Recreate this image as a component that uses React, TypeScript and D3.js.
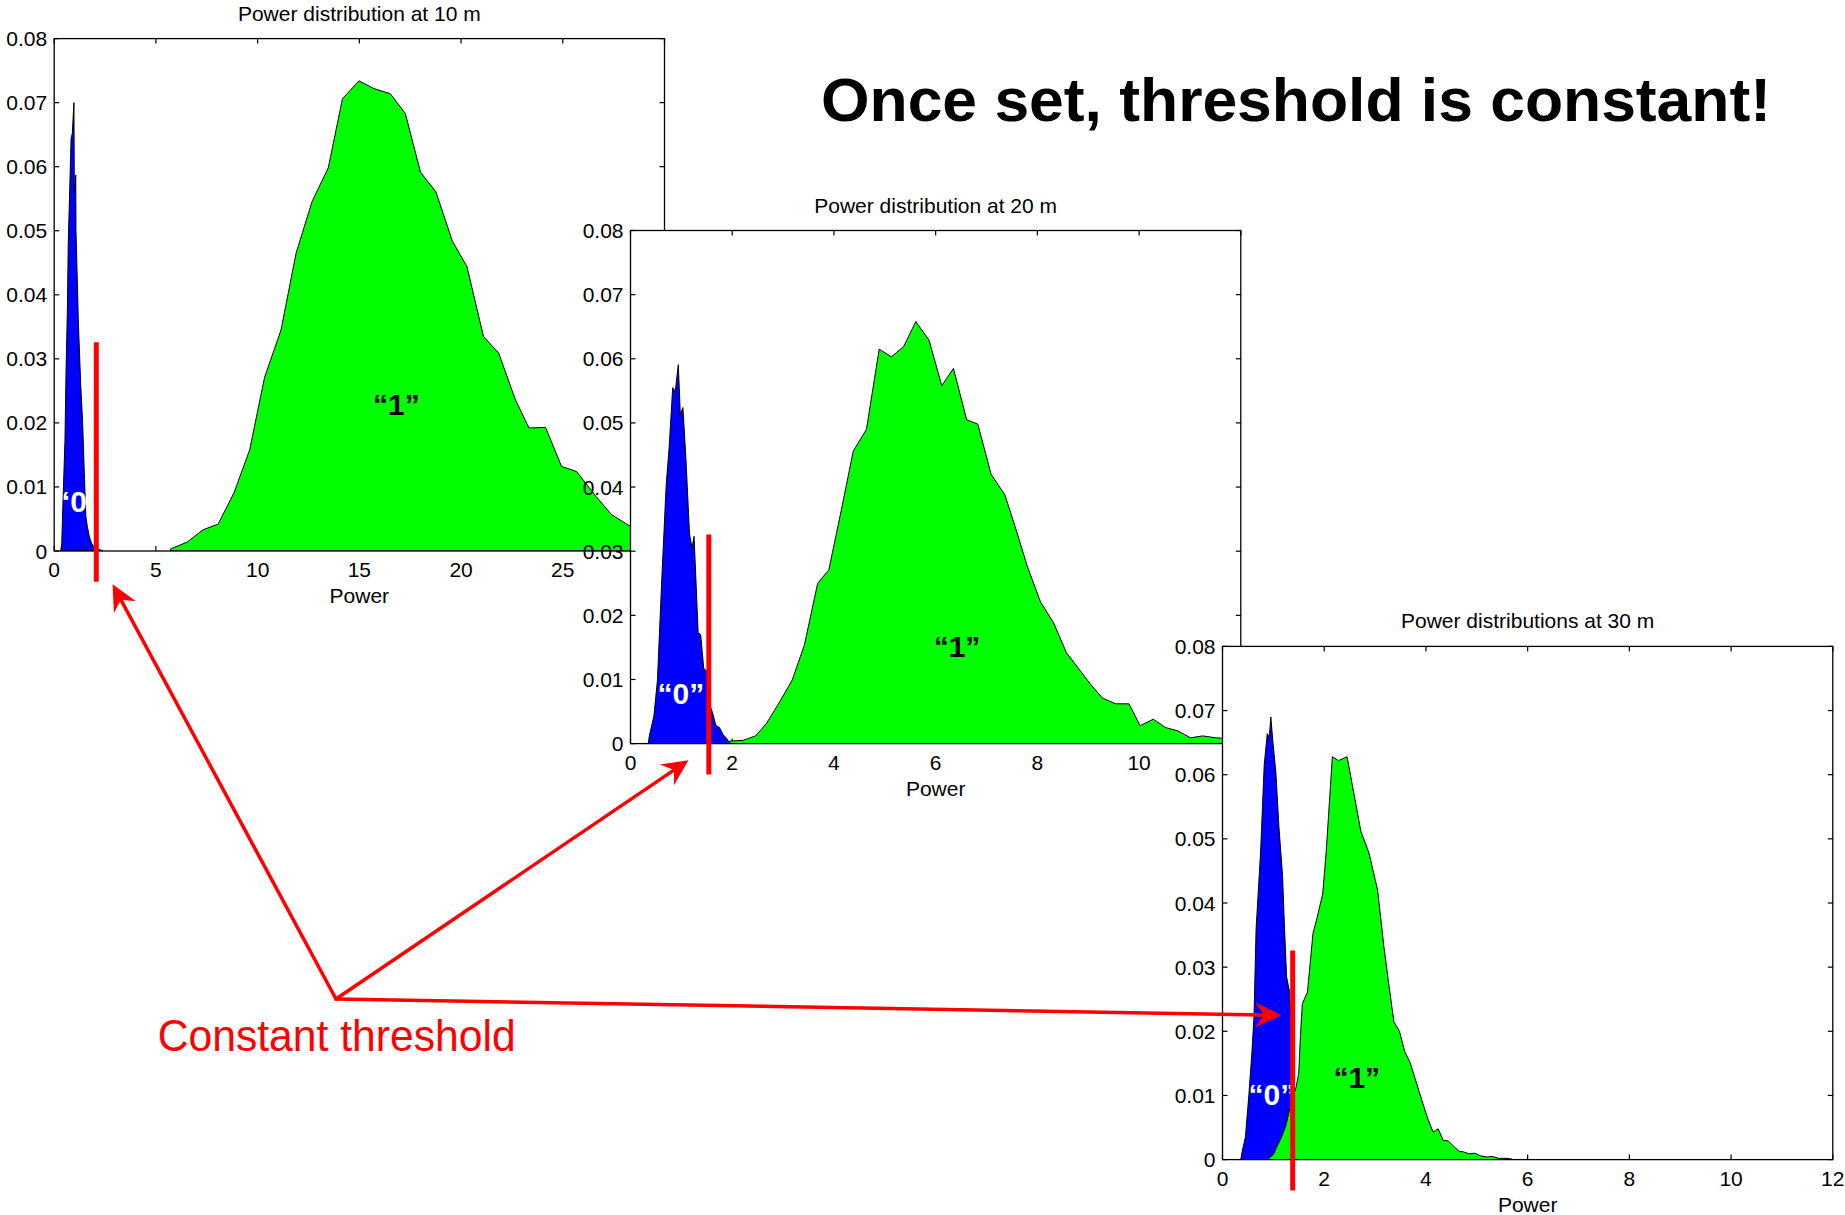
import React from 'react';
import * as d3 from 'd3';

const W = 1845;
const H = 1215;

// ---------- data ----------
const titles = ['Power distribution at 10 m', 'Power distribution at 20 m', 'Power distributions at 30 m'];
const xMaxes = [30, 12, 12];
const yMax = 0.08;

// 10 m
const blue10X = [0.32, 0.37, 0.45, 0.53, 0.58, 0.65, 0.69, 0.78, 0.83, 0.89, 0.97, 0.99, 1.06, 1.07, 1.19, 1.30, 1.40, 1.48, 1.56, 1.63, 1.73, 1.84, 2.0, 2.25, 2.4];
const blue10Y = [0, 0.0012, 0.0095, 0.0173, 0.0277, 0.0381, 0.048, 0.0585, 0.0644, 0.0652, 0.070, 0.0559, 0.0587, 0.0501, 0.0355, 0.0262, 0.0199, 0.0121, 0.0053, 0.0038, 0.0022, 0.0012, 0.0004, 0.0002, 0];
const green10X = [5.71, 6.54, 7.31, 8.06, 8.84, 9.61, 10.34, 11.15, 11.89, 12.68, 13.47, 14.17, 14.98, 15.71, 16.52, 17.26, 18.01, 18.76, 19.57, 20.29, 21.1, 21.85, 22.66, 23.34, 24.15, 24.94, 25.68, 26.64, 27.39, 28.24, 29.0, 29.8];
const green10Y = [0.0003, 0.0014, 0.0033, 0.0042, 0.0091, 0.0158, 0.0271, 0.0345, 0.0465, 0.0546, 0.0598, 0.0706, 0.0734, 0.0722, 0.0714, 0.0683, 0.0591, 0.0561, 0.0484, 0.0444, 0.0335, 0.0309, 0.0237, 0.0192, 0.0193, 0.0132, 0.0124, 0.0085, 0.0057, 0.004, 0.0034, 0.0028];

// 20 m
const blue20X = [0.35, 0.37, 0.46, 0.53, 0.61, 0.70, 0.76, 0.83, 0.88, 0.94, 0.98, 1.03, 1.09, 1.16, 1.21, 1.25, 1.33, 1.38, 1.44, 1.49, 1.55, 1.61, 1.68, 1.75, 1.82, 1.88, 1.95];
const blue20Y = [0, 0.0012, 0.0043, 0.0099, 0.0247, 0.0401, 0.0462, 0.0555, 0.0549, 0.0591, 0.0512, 0.0524, 0.0444, 0.0327, 0.0305, 0.0323, 0.0173, 0.0170, 0.0117, 0.0114, 0.0062, 0.0049, 0.0028, 0.0025, 0.0014, 0.0009, 0.0001];
const green20X = [1.95, 2.21, 2.46, 2.67, 2.91, 3.18, 3.42, 3.68, 3.90, 4.16, 4.38, 4.64, 4.89, 5.13, 5.37, 5.61, 5.87, 6.12, 6.35, 6.61, 6.83, 7.09, 7.36, 7.56, 7.80, 8.06, 8.32, 8.57, 8.81, 9.05, 9.28, 9.54, 9.80, 10.02, 10.28, 10.52, 10.76, 11.01, 11.25, 11.51, 11.78, 12.0];
const green20Y = [0.0004, 0.0005, 0.0012, 0.0031, 0.0062, 0.0099, 0.0154, 0.025, 0.0271, 0.037, 0.0456, 0.049, 0.0615, 0.0603, 0.0619, 0.0658, 0.0629, 0.0558, 0.0585, 0.0505, 0.0498, 0.042, 0.0388, 0.0339, 0.0277, 0.0221, 0.0188, 0.0142, 0.0117, 0.0092, 0.0071, 0.0062, 0.0062, 0.0028, 0.0038, 0.0025, 0.002, 0.0009, 0.0012, 0.0009, 0.0008, 0.0006];

// 30 m
const blue30X = [0.36, 0.38, 0.45, 0.52, 0.58, 0.62, 0.66, 0.75, 0.82, 0.88, 0.92, 0.95, 0.99, 1.05, 1.11, 1.18, 1.22, 1.26, 1.32, 1.35, 1.37, 1.42, 1.5, 1.6, 1.7];
const blue30Y = [0, 0.001, 0.0035, 0.0102, 0.0169, 0.0224, 0.0359, 0.0481, 0.0615, 0.0664, 0.0658, 0.069, 0.0652, 0.0603, 0.0518, 0.0444, 0.0359, 0.0285, 0.0261, 0.020, 0.012, 0.006, 0.003, 0.001, 0];
const green30X = [0.90, 1.0, 1.07, 1.16, 1.24, 1.33, 1.45, 1.50, 1.53, 1.57, 1.67, 1.78, 1.85, 1.97, 2.04, 2.16, 2.28, 2.45, 2.55, 2.72, 2.88, 3.05, 3.17, 3.26, 3.37, 3.48, 3.58, 3.69, 3.80, 3.93, 4.03, 4.14, 4.24, 4.34, 4.44, 4.54, 4.65, 4.74, 4.85, 4.96, 5.07, 5.20, 5.30, 5.43, 5.56, 5.69];
const green30Y = [0.0001, 0.0008, 0.002, 0.0035, 0.0051, 0.0082, 0.0114, 0.0135, 0.019, 0.0243, 0.0261, 0.0353, 0.0374, 0.0414, 0.0481, 0.0628, 0.0622, 0.0628, 0.0585, 0.0512, 0.0478, 0.042, 0.0334, 0.0279, 0.0215, 0.02, 0.0169, 0.0151, 0.0123, 0.009, 0.0065, 0.0043, 0.0048, 0.003, 0.0029, 0.0021, 0.0013, 0.0012, 0.0009, 0.001, 0.0006, 0.0004, 0.0005, 0.0002, 0.0002, 0.0001];

// threshold per panel (power units)
const thresholds = [2.07, 1.54, 1.38];
const thresholdTop = 0.0326;
const thresholdBottom = -0.0048;

// "0" / "1" label anchors in data space
const zeroLabelX = [1.2, 0.99, 0.97];
const zeroLabelY = [0.0061, 0.0062, 0.0085];
const oneLabelX = [16.82, 6.42, 2.64];
const oneLabelY = [0.0212, 0.0135, 0.0112];

// arrow targets in data space of each panel
const arrowTipX = [2.87, 1.14, 1.156];
const arrowTipY = [-0.0052, -0.0026, 0.0225];

// ---------- layout ----------
const panelBoxes = [
  { left: 54.2, top: 38.6, width: 610.3, height: 512.4 },
  { left: 630.5, top: 230.5, width: 610.3, height: 513.1 },
  { left: 1222.5, top: 646.4, width: 610.3, height: 513.2 },
];
const arrowOrigin = { x: 336, y: 999 };

const FONT = "'Liberation Sans', Arial, Helvetica, sans-serif";
const zip = (xs: number[], ys: number[]) => xs.map((v, i) => [v, ys[i]] as [number, number]);

const series = [
  { blue: zip(blue10X, blue10Y), green: zip(green10X, green10Y) },
  { blue: zip(blue20X, blue20Y), green: zip(green20X, green20Y) },
  { blue: zip(blue30X, blue30Y), green: zip(green30X, green30Y) },
];

function scalesFor(i: number) {
  const b = panelBoxes[i];
  const x = d3.scaleLinear().domain([0, xMaxes[i]]).range([b.left, b.left + b.width]);
  const y = d3.scaleLinear().domain([0, yMax]).range([b.top + b.height, b.top]);
  return { x, y };
}

function Panel({ i }: { i: number }) {
  const b = panelBoxes[i];
  const { x, y } = scalesFor(i);
  const area = d3
    .area<[number, number]>()
    .x((d) => x(d[0]))
    .y0(y(0))
    .y1((d) => y(d[1]));
  const xt = x.ticks(6);
  const yt = y.ticks(8);
  const yfmt = (v: number) => (v === 0 ? '0' : d3.format('.2f')(v));
  const tl = 5;
  const bottom = b.top + b.height;
  const right = b.left + b.width;
  return (
    <g>
      <defs>
        <clipPath id={`clip${i}`}>
          <rect x={b.left} y={b.top} width={b.width} height={b.height} />
        </clipPath>
      </defs>
      <rect x={b.left} y={b.top} width={b.width} height={b.height} fill="#fff" />
      {/* ticks */}
      <g stroke="#000" strokeWidth={1.2}>
        {xt.map((t) => (
          <g key={`xt${t}`}>
            <line x1={x(t)} x2={x(t)} y1={bottom} y2={bottom - tl} />
            <line x1={x(t)} x2={x(t)} y1={b.top} y2={b.top + tl} />
          </g>
        ))}
        {yt.map((t) => (
          <g key={`yt${t}`}>
            <line x1={b.left} x2={b.left + tl} y1={y(t)} y2={y(t)} />
            <line x1={right} x2={right - tl} y1={y(t)} y2={y(t)} />
          </g>
        ))}
      </g>
      {/* data */}
      <g clipPath={`url(#clip${i})`}>
        <path d={area(series[i].blue) || ''} fill="#0000ff" stroke="#000" strokeWidth={1} strokeLinejoin="miter" />
        <path d={area(series[i].green) || ''} fill="#00ff00" stroke="#000" strokeWidth={1} />
      </g>
      <rect x={b.left} y={b.top} width={b.width} height={b.height} fill="none" stroke="#000" strokeWidth={1.3} />
      {/* tick labels */}
      <g fontFamily={FONT} fontSize={21} fill="#000">
        {xt.map((t) => (
          <text key={`xl${t}`} x={x(t)} y={bottom + 26} textAnchor="middle">
            {t}
          </text>
        ))}
        {yt.map((t) => (
          <text key={`yl${t}`} x={b.left - 7} y={y(t) + 7.5} textAnchor="end">
            {yfmt(t)}
          </text>
        ))}
        <text x={b.left + b.width / 2} y={bottom + 52} textAnchor="middle">
          Power
        </text>
        <text x={b.left + b.width / 2} y={b.top - 18} textAnchor="middle">
          {titles[i]}
        </text>
      </g>
      {/* class labels */}
      <g fontFamily={FONT} fontSize={30} fontWeight="bold">
        <text x={x(zeroLabelX[i])} y={y(zeroLabelY[i])} textAnchor="middle" fill="#fff">
          “0”
        </text>
        <text x={x(oneLabelX[i])} y={y(oneLabelY[i])} textAnchor="middle" fill="#000">
          “1”
        </text>
      </g>
    </g>
  );
}

function Arrow({ x1, y1, x2, y2 }: { x1: number; y1: number; x2: number; y2: number }) {
  const dx = x2 - x1;
  const dy = y2 - y1;
  const len = Math.hypot(dx, dy);
  const ux = dx / len;
  const uy = dy / len;
  const nx = -uy;
  const ny = ux;
  const L = 26;
  const hw = 12.5;
  const notch = 17.5;
  const bx = x2 - ux * L;
  const by = y2 - uy * L;
  const pts: [number, number][] = [
    [x2, y2],
    [bx + nx * hw, by + ny * hw],
    [x2 - ux * notch, y2 - uy * notch],
    [bx - nx * hw, by - ny * hw],
  ];
  const line = d3.line();
  return (
    <g>
      <line x1={x1} y1={y1} x2={x2 - ux * (notch + 1)} y2={y2 - uy * (notch + 1)} stroke="#ff0000" strokeWidth={3.5} strokeLinecap="round" />
      <path d={(line(pts) || '') + 'Z'} fill="#ff0000" />
    </g>
  );
}

export default function App() {
  return (
    <svg
      width={W}
      height={H}
      viewBox={`0 0 ${W} ${H}`}
      style={{ position: 'absolute', left: 0, top: 0, background: '#fff', display: 'block' }}
    >
      <rect x={0} y={0} width={W} height={H} fill="#fff" />
      {[0, 1, 2].map((i) => (
        <Panel key={i} i={i} />
      ))}
      {/* threshold lines */}
      {[0, 1, 2].map((i) => {
        const { x, y } = scalesFor(i);
        return (
          <line
            key={`th${i}`}
            x1={x(thresholds[i])}
            x2={x(thresholds[i])}
            y1={y(thresholdTop)}
            y2={y(thresholdBottom)}
            stroke="#ff0000"
            strokeWidth={5}
          />
        );
      })}
      {/* arrows */}
      {[0, 1, 2].map((i) => {
        const { x, y } = scalesFor(i);
        return <Arrow key={`ar${i}`} x1={arrowOrigin.x} y1={arrowOrigin.y} x2={x(arrowTipX[i])} y2={y(arrowTipY[i])} />;
      })}
      <text
        x={157.7}
        y={1051}
        fontFamily={FONT}
        fontSize={44}
        fill="#ff0000"
        textLength={358}
        lengthAdjust="spacingAndGlyphs"
      >
        Constant threshold
      </text>
      <text
        x={821}
        y={121}
        fontFamily={FONT}
        fontSize={62}
        fontWeight="bold"
        fill="#000"
        textLength={950}
        lengthAdjust="spacingAndGlyphs"
      >
        Once set, threshold is constant!
      </text>
    </svg>
  );
}
